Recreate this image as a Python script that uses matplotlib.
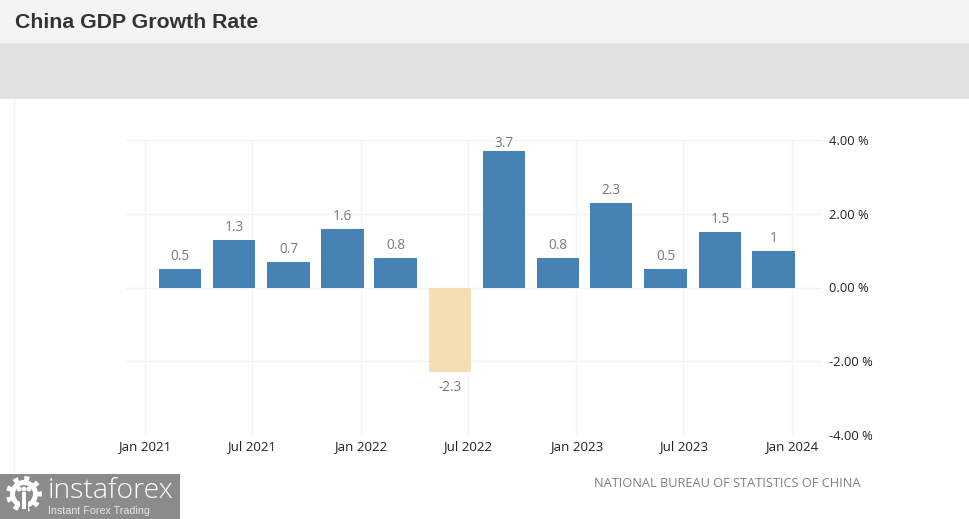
import numpy as np
import pandas as pd
import matplotlib
matplotlib.use('Agg')
import matplotlib.pyplot as plt
import matplotlib.dates as mdates
from matplotlib.patches import Rectangle, Circle, Wedge

W, H = 970, 519

# quarterly growth, dates as the chart places them
bar_dates = ['2021-03-01', '2021-06-01', '2021-09-01', '2021-12-01',
             '2022-03-01', '2022-06-01', '2022-09-01', '2022-12-01',
             '2023-03-01', '2023-06-01', '2023-09-01', '2023-12-01']
values = [0.5, 1.3, 0.7, 1.6, 0.8, -2.3, 3.7, 0.8, 2.3, 0.5, 1.5, 1.0]
value_labels = ['0.5', '1.3', '0.7', '1.6', '0.8', '-2.3', '3.7', '0.8', '2.3', '0.5', '1.5', '1']
tick_dates = ['2021-01-01', '2021-07-01', '2022-01-01', '2022-07-01', '2023-01-01', '2023-07-01', '2024-01-01']
tick_labels = ['Jan 2021', 'Jul 2021', 'Jan 2022', 'Jul 2022', 'Jan 2023', 'Jul 2023', 'Jan 2024']
y_ticks = [-4, -2, 0, 2, 4]
y_labels = ['-4.00 %', '-2.00 %', '0.00 %', '2.00 %', '4.00 %']

BLUE = '#4682b4'
SAND = '#f5deb3'
GRID = '#f3f3f3'

fig = plt.figure(figsize=(W / 100, H / 100), dpi=100, facecolor='white')

# page furniture, in pixel coordinates from the top left
bg = fig.add_axes([0, 0, 1, 1], zorder=0)
bg.set_xlim(0, W)
bg.set_ylim(H, 0)
bg.axis('off')
bg.add_patch(Rectangle((0, 0), W, 43, color='#f4f4f4', lw=0))
bg.add_patch(Rectangle((0, 43), W, 56, color='#e2e2e2', lw=0))
bg.plot([14.5, 14.5], [99, 474], color=GRID, lw=1)
bg.text(15, 22, 'China GDP Growth Rate', family='Liberation Sans', weight='bold',
        fontsize=15.3, color='#333333', va='center', ha='left')
bg.text(861, 483.5, 'NATIONAL BUREAU OF STATISTICS OF CHINA', family='Open Sans',
        fontsize=9.2, color='#808080', va='center', ha='right')

ax = fig.add_axes([126 / W, (H - 435) / H, 696 / W, 295 / H], zorder=1)
ax.patch.set_alpha(0)
x = mdates.date2num(pd.to_datetime(bar_dates))
xt = mdates.date2num(pd.to_datetime(tick_dates))
px_day = (792 - 145) / (xt[-1] - xt[0])
ax.set_xlim(xt[0] - (145 - 126) / px_day, xt[-1] + (822 - 792) / px_day)
ax.set_ylim(-4, 4)
colors = [BLUE if v >= 0 else SAND for v in values]
ax.bar(x, values, width=42.5 / px_day, color=colors, zorder=3)
for xi, v, s in zip(x, values, value_labels):
    if v < 0:
        off = -8
    elif v > 3.5:
        off = 0   # squeezed under the top of the plot
    else:
        off = 5
    ax.annotate(s, (xi, v), xytext=(0, off), textcoords='offset pixels', ha='center',
                va='bottom' if v >= 0 else 'top', fontsize=9.8, color='#7a7a7a',
                family='Open Sans')

for s in ax.spines.values():
    s.set_visible(False)
ax.grid(True, color=GRID, lw=1, zorder=0)
ax.set_axisbelow(True)
ax.set_xticks(xt, tick_labels, family='Open Sans', fontsize=9.6, color='#222222')
ax.yaxis.tick_right()
ax.set_yticks(y_ticks, y_labels, family='Open Sans', fontsize=9.3, color='#222222')
ax.tick_params(axis='x', length=0, pad=3.5)
ax.tick_params(axis='y', length=0, pad=5)

# watermark in the bottom left
bg.add_patch(Rectangle((0, 474), 180, 45, color='#8b8b8b', lw=0, zorder=5))
cx, cy = 24, 494
for a in np.arange(0, 360, 40):
    bg.add_patch(Wedge((cx, cy), 18, a - 9, a + 9, color='white', lw=0, zorder=6))
bg.add_patch(Circle((cx, cy), 14, color='white', lw=0, zorder=6))
bg.add_patch(Circle((cx, cy), 9, color='#8b8b8b', lw=0, zorder=7))
bg.add_patch(Rectangle((cx - 4, cy + 8), 8, 10, color='#8b8b8b', lw=0, zorder=7))
bg.add_patch(Rectangle((cx - 2, cy - 2), 4, 17, color='white', lw=0, zorder=8))
for dx in [-5, 0, 5]:
    bg.add_patch(Circle((cx + dx, cy - 5), 2.5, color='white', lw=0, zorder=8))
bg.text(48, 490.5, 'instaforex', family='Open Sans', fontsize=20.5, weight='light',
        color='white', va='center', ha='left', zorder=8)
bg.text(48, 510.5, 'Instant Forex Trading', family='Liberation Sans', fontsize=7.7,
        color='#e8e8e8', va='center', ha='left', zorder=8)

fig.savefig('out.png', dpi=100)
